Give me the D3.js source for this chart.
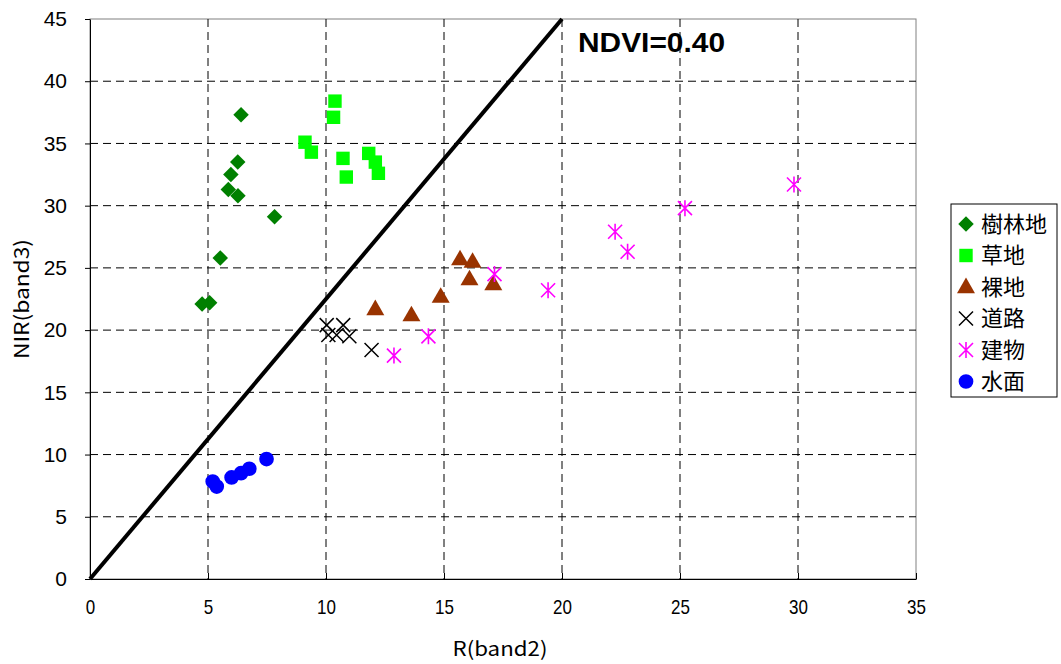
<!DOCTYPE html>
<html>
<head>
<meta charset="utf-8">
<script src="https://cdn.jsdelivr.net/npm/d3@7"></script>
<style>
  body { margin: 0; background: #fff; }
  svg { display: block; }
</style>
</head>
<body>
<div id="chart"></div>
<script>
// Scatter of R(band2) vs NIR(band3) by land cover
const forest = [[6.40, 37.3], [6.26, 33.5], [5.97, 32.5], [5.86, 31.3], [6.27, 30.8], [7.82, 29.1], [5.52, 25.8], [4.75, 22.1], [5.07, 22.2]];
const grass = [[10.38, 38.4], [10.32, 37.1], [9.11, 35.1], [9.38, 34.3], [10.72, 33.8], [10.86, 32.3], [11.81, 34.2], [12.09, 33.5], [12.22, 32.6]];
const bare = [[15.68, 25.7], [16.21, 25.5], [16.08, 24.1], [17.09, 23.7], [14.86, 22.7], [12.09, 21.7], [13.62, 21.2]];
const road = [[10.03, 20.4], [10.73, 20.4], [10.10, 19.6], [10.45, 19.6], [10.99, 19.5], [11.93, 18.4]];
const building = [[12.88, 17.95], [14.34, 19.5], [17.14, 24.5], [19.41, 23.2], [22.25, 27.9], [22.78, 26.3], [25.21, 29.8], [29.83, 31.7]];
const water = [[5.20, 7.83], [5.37, 7.43], [6.00, 8.16], [6.40, 8.50], [6.75, 8.86], [7.48, 9.64]];
const ndviLine = [[0, 0], [20, 45]];

const xTicks = [0, 5, 10, 15, 20, 25, 30, 35];
const yTicks = [0, 5, 10, 15, 20, 25, 30, 35, 40, 45];

const series = [
    { name: "樹林地", data: forest, shape: "diamond", color: "#008000" },
    { name: "草地", data: grass, shape: "square", color: "#00ff00" },
    { name: "裸地", data: bare, shape: "triangle", color: "#993300" },
    { name: "道路", data: road, shape: "cross", color: "#000000" },
    { name: "建物", data: building, shape: "star", color: "#ff00ff" },
    { name: "水面", data: water, shape: "circle", color: "#0000ff" }
];

const width = 1061, height = 664;
const plotLeft = 90, plotRight = 916, plotTop = 19, plotBottom = 579;

const svg = d3.select("#chart").append("svg")
    .attr("width", width).attr("height", height);

const x = d3.scaleLinear().domain([0, 35]).range([plotLeft, plotRight]);
const y = d3.scaleLinear().domain([0, 45]).range([plotBottom, plotTop]);

// plot frame (top/right gray)
svg.append("rect")
    .attr("x", plotLeft).attr("y", plotTop)
    .attr("width", plotRight - plotLeft).attr("height", plotBottom - plotTop)
    .attr("fill", "none").attr("stroke", "#808080").attr("stroke-width", 1);

// grid
const grid = svg.append("g");
grid.selectAll(".vg").data(xTicks.filter(d => d > 0 && d < 35)).join("line")
    .attr("x1", d => x(d)).attr("x2", d => x(d))
    .attr("y1", plotTop).attr("y2", plotBottom)
    .attr("stroke", "#000").attr("stroke-width", 1).attr("stroke-dasharray", "8,5");
grid.selectAll(".hg").data(yTicks.filter(d => d > 0 && d < 45)).join("line")
    .attr("x1", plotLeft).attr("x2", plotRight)
    .attr("y1", d => y(d)).attr("y2", d => y(d))
    .attr("stroke", "#000").attr("stroke-width", 1).attr("stroke-dasharray", "8,5");

// axes
const xAxis = svg.append("g")
    .attr("transform", `translate(0,${plotBottom})`)
    .call(d3.axisBottom(x).tickValues(xTicks).tickSizeInner(-6).tickSizeOuter(0).tickPadding(21));
xAxis.select(".domain").attr("stroke", "#000");
// condensed digits like the original
xAxis.selectAll(".tick text")
    .style("font-family", "'Liberation Sans', Arial, sans-serif")
    .style("font-size", "20px").attr("fill", "#000")
    .attr("transform", "scale(0.85,1)");

const yAxis = svg.append("g")
    .attr("transform", `translate(${plotLeft},0)`)
    .call(d3.axisLeft(y).tickValues(yTicks).tickSizeInner(5).tickSizeOuter(0).tickPadding(18));
yAxis.select(".domain").attr("stroke", "#000");
yAxis.selectAll("text")
    .style("font-family", "'Liberation Sans', Arial, sans-serif")
    .style("font-size", "21px").attr("fill", "#000");

// axis titles
svg.append("text")
    .attr("x", 500).attr("y", 656)
    .attr("text-anchor", "middle")
    .attr("textLength", 95).attr("lengthAdjust", "spacingAndGlyphs")
    .style("font-family", "'Noto Sans CJK JP', sans-serif")
    .style("font-size", "20px")
    .text("R(band2)");
svg.append("text")
    .attr("transform", `translate(29,${(plotTop + plotBottom) / 2}) rotate(-90)`)
    .attr("text-anchor", "middle")
    .attr("textLength", 120).attr("lengthAdjust", "spacingAndGlyphs")
    .style("font-family", "'Noto Sans CJK JP', sans-serif")
    .style("font-size", "20px")
    .text("NIR(band3)");

// NDVI line
const line = d3.line().x(d => x(d[0])).y(d => y(d[1]));
svg.append("path")
    .attr("d", line(ndviLine))
    .attr("fill", "none").attr("stroke", "#000").attr("stroke-width", 4);

svg.append("text")
    .attr("x", 578).attr("y", 52)
    .attr("textLength", 147).attr("lengthAdjust", "spacingAndGlyphs")
    .style("font-family", "'Liberation Sans', Arial, sans-serif")
    .style("font-size", "27px").style("font-weight", "bold")
    .text("NDVI=0.40");

// markers
const symbolSize = { diamond: 120, square: 180, triangle: 140, circle: 170 };
function drawMarker(g, shape, color) {
    if (shape === "cross") {
        g.append("path").attr("d", "M-7,-7L7,7M-7,7L7,-7")
            .attr("stroke", color).attr("stroke-width", 1.5).attr("fill", "none");
    } else if (shape === "star") {
        g.append("path").attr("d", "M-7,-7L7,7M-7,7L7,-7M0,-8L0,8")
            .attr("stroke", color).attr("stroke-width", 1.6).attr("fill", "none");
    } else {
        const types = { diamond: d3.symbolSquare, square: d3.symbolSquare, triangle: d3.symbolTriangle, circle: d3.symbolCircle };
        const p = g.append("path")
            .attr("d", d3.symbol().type(types[shape]).size(symbolSize[shape])())
            .attr("fill", color);
        if (shape === "diamond") p.attr("transform", "rotate(45)");
        if (shape === "triangle") p.attr("transform", "translate(0,1)");
    }
}

series.forEach(s => {
    const g = svg.append("g");
    s.data.forEach(d => {
        const m = g.append("g").attr("transform", `translate(${x(d[0])},${y(d[1])})`);
        drawMarker(m, s.shape, s.color);
    });
});

// legend
const legend = svg.append("g");
legend.append("rect")
    .attr("x", 951).attr("y", 204).attr("width", 106).attr("height", 193)
    .attr("fill", "#fff").attr("stroke", "#000").attr("stroke-width", 1);
series.forEach((s, i) => {
    const cy = 224 + i * 31.5;
    const m = legend.append("g").attr("transform", `translate(966,${cy})`);
    drawMarker(m, s.shape, s.color);
    legend.append("text")
        .attr("x", 981).attr("y", cy)
        .attr("dy", "0.36em")
        .style("font-family", "'Noto Sans CJK JP', sans-serif")
        .style("font-size", "22px")
        .text(s.name);
});
</script>
</body>
</html>
